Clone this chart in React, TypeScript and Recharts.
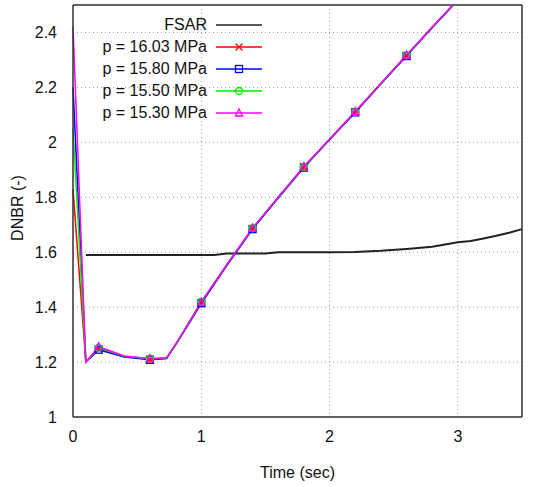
import { LineChart, Line, XAxis, YAxis, CartesianGrid, ReferenceLine } from "recharts";

const TIME = [0, 0.1, 0.2, 0.4, 0.6, 0.73, 0.82, 1.0, 1.2, 1.4, 1.6, 1.8, 2.0, 2.2, 2.4, 2.6, 2.8, 3.0, 3.2];
const P1603 = [1.83, 1.2, 1.248, 1.22, 1.21, 1.214, 1.278, 1.416, 1.553, 1.686, 1.798, 1.91, 2.01, 2.11, 2.213, 2.316, 2.418, 2.518, 2.618];
const P1580 = [2.2, 1.2, 1.245, 1.218, 1.208, 1.213, 1.277, 1.414, 1.552, 1.684, 1.797, 1.908, 2.009, 2.109, 2.212, 2.314, 2.417, 2.517, 2.617];
const P1550 = [2.05, 1.2, 1.252, 1.221, 1.212, 1.215, 1.279, 1.42, 1.555, 1.688, 1.8, 1.911, 2.011, 2.111, 2.214, 2.317, 2.419, 2.519, 2.619];
const P1530 = [2.42, 1.2, 1.256, 1.222, 1.212, 1.216, 1.28, 1.418, 1.556, 1.688, 1.801, 1.912, 2.012, 2.112, 2.215, 2.318, 2.42, 2.52, 2.62];

const FSAR_T = [0.1, 1.1, 1.2, 1.5, 1.6, 2.0, 2.2, 2.4, 2.6, 2.8, 2.9, 3.0, 3.1, 3.2, 3.3, 3.4, 3.5];
const FSAR_V = [1.59, 1.59, 1.595, 1.595, 1.6, 1.6, 1.601, 1.605, 1.612, 1.62, 1.628, 1.636, 1.641, 1.65, 1.66, 1.671, 1.684];

const MARK_TIMES = [0.2, 0.6, 1.0, 1.4, 1.8, 2.2, 2.6];
const X_TICKS = [0, 1, 2, 3];
const Y_TICKS = [1, 1.2, 1.4, 1.6, 1.8, 2, 2.2, 2.4];
const X_MIN = 0;
const X_MAX = 3.5;
const Y_MIN = 1;
const Y_MAX = 2.5;

const FONT = "'Liberation Sans', Arial, sans-serif";
const AXIS = "#333";

type Shape = "none" | "cross" | "square" | "circle" | "triangle";

const series: { key: string; name: string; color: string; shape: Shape; ts: number[]; vs: number[] }[] = [
  { key: "fsar", name: "FSAR", color: "#222", shape: "none", ts: FSAR_T, vs: FSAR_V },
  { key: "p1603", name: "p = 16.03 MPa", color: "#ff0000", shape: "cross", ts: TIME, vs: P1603 },
  { key: "p1580", name: "p = 15.80 MPa", color: "#0000ff", shape: "square", ts: TIME, vs: P1580 },
  { key: "p1550", name: "p = 15.50 MPa", color: "#00ee00", shape: "circle", ts: TIME, vs: P1550 },
  { key: "p1530", name: "p = 15.30 MPa", color: "#ff00ff", shape: "triangle", ts: TIME, vs: P1530 },
];

// merge everything into one table keyed by time
const allTimes = Array.from(new Set([...TIME, ...FSAR_T])).sort((a, b) => a - b);
const data = allTimes.map((t) => {
  const row: Record<string, number> = { t };
  series.forEach((s) => {
    const i = s.ts.indexOf(t);
    if (i >= 0) row[s.key] = s.vs[i];
  });
  return row;
});

const Marker = ({ shape, x, y, color }: { shape: Shape; x: number; y: number; color: string }) => {
  const s = 3.5;
  if (shape === "cross")
    return (
      <g stroke={color} strokeWidth={1.3}>
        <line x1={x - s} y1={y - s} x2={x + s} y2={y + s} />
        <line x1={x - s} y1={y + s} x2={x + s} y2={y - s} />
      </g>
    );
  if (shape === "square")
    return <rect x={x - s} y={y - s} width={2 * s} height={2 * s} fill="none" stroke={color} strokeWidth={1.3} />;
  if (shape === "circle") return <circle cx={x} cy={y} r={s} fill="none" stroke={color} strokeWidth={1.3} />;
  if (shape === "triangle")
    return (
      <polygon
        points={`${x},${y - s - 0.5} ${x - s},${y + s - 0.5} ${x + s},${y + s - 0.5}`}
        fill="none"
        stroke={color}
        strokeWidth={1.3}
      />
    );
  return null;
};

const makeDot = (shape: Shape, color: string) => (props: any) => {
  const { cx, cy, payload, index } = props;
  if (shape === "none" || cx == null || cy == null || !MARK_TIMES.includes(payload.t)) return <g key={`d-${index}`} />;
  return (
    <g key={`d-${index}`}>
      <Marker shape={shape} x={cx} y={cy} color={color} />
    </g>
  );
};

const LegendBox = () => (
  <div style={{ position: "absolute", left: 79, top: 14, fontFamily: FONT, fontSize: 16, color: "#111" }}>
    {series.map((s) => (
      <div key={s.name} style={{ display: "flex", alignItems: "center", height: 22 }}>
        <span style={{ width: 128, textAlign: "right", whiteSpace: "nowrap" }}>{s.name}</span>
        <svg width={48} height={14} style={{ marginLeft: 9 }}>
          <line x1={0} y1={7} x2={46} y2={7} stroke={s.color} strokeWidth={1.5} />
          <Marker shape={s.shape} x={23} y={7} color={s.color} />
        </svg>
      </div>
    ))}
  </div>
);

const DnbrChart = () => {
  return (
    <div style={{ position: "absolute", left: 0, top: 0, width: 533, height: 487 }}>
      <LineChart width={533} height={487} data={data} margin={{ top: 5, right: 11, bottom: 0, left: 0 }}>
        <CartesianGrid stroke="#999" strokeDasharray="1 3" />
        <XAxis
          dataKey="t"
          type="number"
          domain={[X_MIN, X_MAX]}
          ticks={X_TICKS}
          height={70}
          tickLine={false}
          tickMargin={8}
          axisLine={{ stroke: AXIS, strokeWidth: 1.5 }}
          tick={{ fill: "#111", fontSize: 16, fontFamily: FONT }}
          label={{ value: "Time (sec)", position: "center", dy: 20, fill: "#111", fontSize: 16, fontFamily: FONT }}
        />
        <YAxis
          type="number"
          domain={[Y_MIN, Y_MAX]}
          ticks={Y_TICKS}
          allowDataOverflow
          width={73}
          tickLine={false}
          tickMargin={10}
          axisLine={{ stroke: AXIS, strokeWidth: 1.5 }}
          tick={{ fill: "#111", fontSize: 16, fontFamily: FONT }}
          label={{ value: "DNBR (-)", angle: -90, position: "center", dx: -19, dy: -3, fill: "#111", fontSize: 16, fontFamily: FONT }}
        />
        <ReferenceLine y={Y_MAX} stroke={AXIS} strokeWidth={1.5} />
        <ReferenceLine x={X_MAX} stroke={AXIS} strokeWidth={1.5} />
        {series.map((s) => (
          <Line
            key={s.key}
            dataKey={s.key}
            type="linear"
            connectNulls
            stroke={s.color}
            strokeWidth={s.shape === "none" ? 2 : 1.5}
            dot={makeDot(s.shape, s.color)}
            activeDot={false}
            isAnimationActive={false}
          />
        ))}
      </LineChart>
      <LegendBox />
    </div>
  );
};

export default DnbrChart;
